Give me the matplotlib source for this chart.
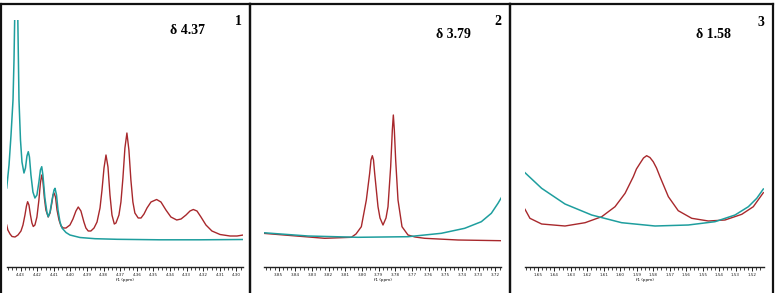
import matplotlib
matplotlib.use("Agg")
import matplotlib.pyplot as plt
from matplotlib.ticker import MultipleLocator, FormatStrFormatter

# ---------------- data (ppm, intensity) ----------------
p1_red = [
    (4.4384, 42), (4.4377, 37), (4.4364, 33), (4.4352, 30.5), (4.4334, 30), (4.4316, 32),
    (4.4298, 36), (4.4286, 42), (4.4274, 52), (4.4265, 61), (4.4258, 65.3), (4.4250, 62),
    (4.4241, 52), (4.4232, 44), (4.4224, 40.5), (4.4214, 42), (4.4202, 50), (4.4190, 67),
    (4.4181, 84), (4.4173, 92), (4.4166, 86), (4.4157, 69), (4.4148, 57), (4.4134, 50),
    (4.4123, 54), (4.4111, 65), (4.4105, 72), (4.4099, 74), (4.4090, 70), (4.4081, 57),
    (4.4069, 47), (4.4057, 41), (4.4043, 39), (4.4027, 39), (4.4003, 42), (4.3985, 48),
    (4.3967, 56), (4.3953, 60), (4.3937, 56), (4.3919, 45), (4.3907, 39), (4.3893, 36),
    (4.3877, 36), (4.3858, 39), (4.3840, 45), (4.3822, 59), (4.3810, 77), (4.3798, 99),
    (4.3786, 112), (4.3774, 100), (4.3762, 72), (4.3750, 52), (4.3736, 43), (4.3726, 44),
    (4.3708, 52), (4.3696, 65), (4.3684, 89), (4.3672, 119), (4.3660, 134), (4.3648, 117),
    (4.3636, 87), (4.3624, 65), (4.3612, 54), (4.3592, 49), (4.3575, 49), (4.3557, 53),
    (4.3539, 59), (4.3515, 65), (4.3481, 67.5), (4.3455, 65), (4.3425, 57), (4.3395, 50),
    (4.3360, 47), (4.3334, 48), (4.3304, 52), (4.3280, 56), (4.3260, 57.5), (4.3238, 56),
    (4.3214, 50), (4.3184, 42), (4.3148, 36), (4.3099, 32.5), (4.3039, 31), (4.2997, 31),
    (4.2959, 32),
]
p1_teal = [
    (4.4384, 79), (4.4370, 102), (4.4358, 132), (4.4346, 167), (4.4340, 207), (4.4336, 247),
    (4.4327, 307), (4.4317, 247), (4.4310, 167), (4.4301, 127), (4.4292, 105), (4.4280, 94),
    (4.4271, 99), (4.4262, 111), (4.4254, 115.3), (4.4247, 110), (4.4238, 92), (4.4226, 75),
    (4.4214, 69), (4.4202, 72), (4.4190, 85), (4.4181, 97), (4.4173, 100.3), (4.4166, 92),
    (4.4154, 69), (4.4142, 55), (4.4134, 50.3), (4.4123, 55), (4.4111, 67), (4.4099, 77),
    (4.4093, 78.7), (4.4084, 72), (4.4075, 57), (4.4063, 45), (4.4051, 39), (4.4027, 34.5),
    (4.4003, 32), (4.3943, 29.5), (4.3852, 28.3), (4.3720, 27.7), (4.3461, 27.2),
    (4.3220, 27.2), (4.2959, 27.5),
]
p2_red = [
    (3.8594, 33.7), (3.8224, 28.7), (3.8064, 29.7), (3.8036, 33), (3.8004, 40.3),
    (3.7974, 67), (3.7954, 93.7), (3.7946, 107), (3.7938, 111.3), (3.7931, 107),
    (3.7924, 93.7), (3.7904, 60.3), (3.7892, 49), (3.7874, 42), (3.7856, 49),
    (3.7844, 60.3), (3.7828, 100.3), (3.7818, 137), (3.7812, 152), (3.7806, 137),
    (3.7798, 107), (3.7784, 67), (3.7760, 40.3), (3.7724, 32), (3.7682, 30),
    (3.7624, 28.7), (3.7424, 27), (3.7164, 26.3),
]
p2_teal = [
    (3.8594, 34.3), (3.8324, 31), (3.8024, 29.7), (3.7724, 30.3), (3.7524, 33.7),
    (3.7384, 38.7), (3.7284, 45.3), (3.7224, 53.7), (3.7184, 63.7), (3.7158, 71),
]
p3_red = [
    (1.6579, 57.7), (1.6549, 48.7), (1.6478, 43), (1.6336, 41), (1.6214, 44.3),
    (1.6113, 50.3), (1.6032, 60.3), (1.5971, 73.7), (1.5921, 90.3), (1.5902, 98),
    (1.5880, 103.7), (1.5859, 109), (1.5840, 111.3), (1.5820, 109.5), (1.5800, 105.3),
    (1.5780, 99), (1.5759, 90.3), (1.5708, 70.3), (1.5648, 56.3), (1.5566, 48.7),
    (1.5465, 46), (1.5364, 47), (1.5262, 52.7), (1.5192, 60.3), (1.5131, 74.3),
]
p3_teal = [
    (1.6579, 94.3), (1.6478, 78.7), (1.6336, 63), (1.6174, 52), (1.5992, 44.3),
    (1.5789, 41), (1.5587, 42), (1.5425, 45.3), (1.5303, 52), (1.5222, 60.3),
    (1.5171, 68.7), (1.5131, 78),
]
shifts = ["δ 4.37", "δ 3.79", "δ 1.58"]
panel_ids = ["1", "2", "3"]
xlims = [(4.4384, 4.2959), (3.8588, 3.7166), (1.6579, 1.5127)]

# ---------------- layout ----------------
W, H = 779, 293
fig = plt.figure(figsize=(W / 100, H / 100), dpi=100)
RED = "#a8282c"
TEAL = "#1e9e9e"

frames_px = [(1, 250), (250, 509.5), (509.5, 773)]
inner_px = [(6.7, 243.3), (264, 501), (525, 764)]
title_px = [(188, 31), (453, 34), (713, 34)]
num_px = [(238, 21.5), (498, 21.5), (761, 23)]
y_top, y_rule = 20, 267

for (fx0, fx1) in frames_px:
    fa = fig.add_axes([fx0 / W, -0.01, (fx1 - fx0) / W, (H - 4) / H + 0.01])
    fa.set_xticks([]); fa.set_yticks([])
    fa.patch.set_alpha(0)
    for s in ["left", "right", "top"]:
        fa.spines[s].set_linewidth(1.6)
        fa.spines[s].set_color("#111111")
    fa.spines["bottom"].set_visible(False)

data = [(p1_red, p1_teal), (p2_red, p2_teal), (p3_red, p3_teal)]
for i, ((ix0, ix1), (red, teal)) in enumerate(zip(inner_px, data)):
    ax = fig.add_axes([ix0 / W, (H - y_rule) / H, (ix1 - ix0) / W, (y_rule - y_top) / H])
    ax.patch.set_alpha(0)
    ax.plot([p for p, _ in red], [v for _, v in red], color=RED, lw=1.0)
    ax.plot([p for p, _ in teal], [v for _, v in teal], color=TEAL, lw=1.1)
    ax.set_xlim(*xlims[i])
    ax.set_ylim(0, y_rule - y_top)
    for s in ["left", "right", "top"]:
        ax.spines[s].set_visible(False)
    ax.spines["bottom"].set_linewidth(1.0)
    ax.spines["bottom"].set_color("#222222")
    ax.set_yticks([])
    ax.xaxis.set_major_locator(MultipleLocator(0.01))
    ax.xaxis.set_minor_locator(MultipleLocator(0.0025))
    ax.xaxis.set_major_formatter(FormatStrFormatter("%.2f"))
    ax.tick_params(axis="x", which="major", length=3, width=0.7, labelsize=3, pad=1.5,
                   colors="#222222")
    ax.tick_params(axis="x", which="minor", length=2, width=0.6, colors="#222222")
    ax.set_xlabel("f1 (ppm)", fontsize=3, labelpad=0.5)

    tx, ty = title_px[i]
    fig.text(tx / W, 1 - ty / H, shifts[i], family="Liberation Serif", weight="bold",
             fontsize=10, ha="center", va="center")
    nx, ny = num_px[i]
    fig.text(nx / W, 1 - ny / H, panel_ids[i], family="Liberation Serif", weight="bold",
             fontsize=10, ha="center", va="center")

fig.savefig("out.png", dpi=100)
